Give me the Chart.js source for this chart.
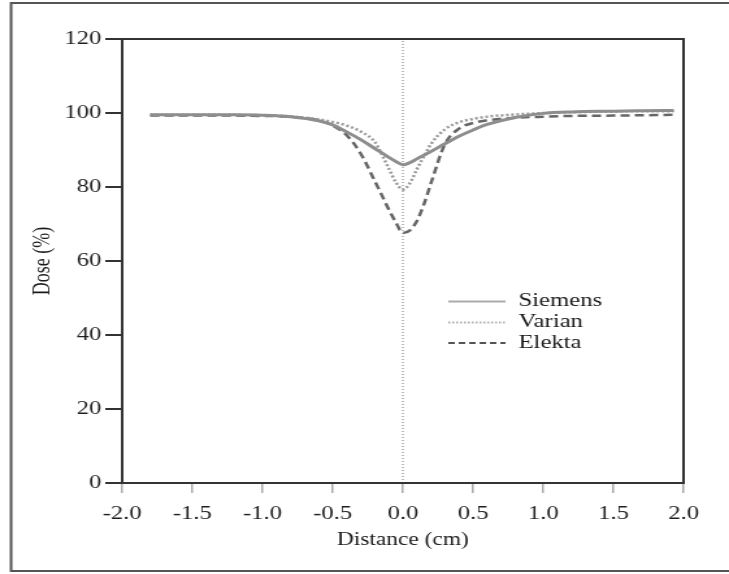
<!DOCTYPE html>
<html>
<head>
<meta charset="utf-8">
<script src="https://cdn.jsdelivr.net/npm/chart.js@4.4.1/dist/chart.umd.min.js"></script>
<style>
html, body { margin: 0; padding: 0; background: #fff; overflow: hidden; }
/* the source picture is stretched sideways, so the chart is drawn narrow and widened */
#wrap { width: 561px; height: 574px; transform: scaleX(1.2995); transform-origin: 0 0; }
</style>
</head>
<body>
<div id="wrap"><canvas id="doseChart" width="561" height="574"></canvas></div>
<script>
const distance = [-1.8, -1.5, -1.2, -1.0, -0.8, -0.6, -0.5, -0.4, -0.3, -0.2, -0.15, -0.1, -0.05, 0.0,
                  0.05, 0.1, 0.15, 0.2, 0.3, 0.4, 0.5, 0.6, 0.8, 1.0, 1.2, 1.5, 1.7, 1.93];
const siemens = [99.5, 99.5, 99.5, 99.4, 99.0, 97.9, 96.8, 94.9, 92.8, 90.4, 89.2, 88.0, 86.9, 86.0,
                 86.6, 87.6, 88.6, 89.6, 91.7, 93.7, 95.4, 96.9, 98.8, 99.9, 100.3, 100.5, 100.6, 100.7];
const varian = [99.5, 99.5, 99.5, 99.4, 99.1, 98.3, 97.6, 96.6, 95.0, 92.2, 88.8, 85.0, 81.3, 79.3,
                81.0, 84.8, 88.3, 91.6, 95.6, 97.5, 98.4, 99.0, 99.6, 100.0, 100.2, 100.4, 100.5, 100.5];
const elekta = [99.3, 99.3, 99.3, 99.2, 99.0, 98.0, 96.6, 94.0, 89.0, 81.6, 77.8, 73.9, 70.4, 67.6,
                68.3, 70.8, 75.3, 81.0, 91.6, 95.8, 97.3, 98.0, 98.7, 99.0, 99.2, 99.3, 99.4, 99.5];
const seriesNames = ['Siemens', 'Varian', 'Elekta'];
const distanceTicks = [-2.0, -1.5, -1.0, -0.5, 0.0, 0.5, 1.0, 1.5, 2.0];
const doseTicks = [0, 20, 40, 60, 80, 100, 120];

const serif = 'Liberation Serif, Times New Roman, serif';
const toPoints = ys => distance.map((x, i) => ({ x: x, y: ys[i] }));

const framePlugin = {
    id: 'frame',
    beforeDraw(chart) {
        const ctx = chart.ctx;
        ctx.save();
        ctx.strokeStyle = '#555';
        ctx.lineWidth = 2;
        ctx.strokeRect(8.5, 3, chart.width + 10, 568);
        ctx.restore();
    },
    afterDraw(chart) {
        const ctx = chart.ctx;
        const a = chart.chartArea;
        ctx.save();
        ctx.strokeStyle = '#333';
        ctx.lineWidth = 2;
        ctx.strokeRect(a.left, a.top, a.right - a.left, a.bottom - a.top);

        // legend inside the plot
        const samples = [
            { color: '#ababab', width: 2, dash: [] },
            { color: '#b0b0b0', width: 2, dash: [1.5, 1.5] },
            { color: '#555', width: 2, dash: [5, 3] }
        ];
        const rowsY = [301.5, 322.5, 343];
        ctx.font = '19px ' + serif;
        ctx.fillStyle = '#1a1a1a';
        ctx.textBaseline = 'middle';
        seriesNames.forEach((name, i) => {
            const s = samples[i];
            ctx.strokeStyle = s.color;
            ctx.lineWidth = s.width;
            ctx.setLineDash(s.dash);
            ctx.beginPath();
            ctx.moveTo(a.left + 251, rowsY[i]);
            ctx.lineTo(a.left + 295, rowsY[i]);
            ctx.stroke();
            ctx.fillText(name, a.left + 305, rowsY[i]);
        });
        ctx.restore();
    }
};

const ctx = document.getElementById('doseChart').getContext('2d');
const doseChart = new Chart(ctx, {
    type: 'line',
    data: {
        datasets: [
            {
                label: seriesNames[0],
                data: toPoints(siemens),
                borderColor: '#8e8e8e',
                borderWidth: 3,
                pointRadius: 0,
                cubicInterpolationMode: 'monotone'
            },
            {
                label: seriesNames[1],
                data: toPoints(varian),
                borderColor: '#9a9a9a',
                borderWidth: 2.5,
                borderDash: [2, 2],
                pointRadius: 0,
                cubicInterpolationMode: 'monotone'
            },
            {
                label: seriesNames[2],
                data: toPoints(elekta),
                borderColor: '#666',
                borderWidth: 2.5,
                borderDash: [7, 4],
                pointRadius: 0,
                cubicInterpolationMode: 'monotone'
            },
            {
                label: 'zero',
                data: [{ x: 0, y: 0 }, { x: 0, y: 120 }],
                borderColor: '#777',
                borderWidth: 1,
                borderDash: [1, 2],
                pointRadius: 0
            }
        ]
    },
    options: {
        responsive: false,
        animation: false,
        devicePixelRatio: 1,
        layout: { padding: { left: 0, right: 35, top: 39, bottom: 0 } },
        plugins: {
            legend: { display: false },
            tooltip: { enabled: false }
        },
        scales: {
            x: {
                type: 'linear',
                min: -2,
                max: 2,
                afterBuildTicks: s => { s.ticks = distanceTicks.map(v => ({ value: v })); },
                afterFit: s => { s.height = 91; },
                ticks: {
                    callback: v => v.toFixed(1),
                    font: { family: serif, size: 19 },
                    color: '#1f1f1f',
                    padding: 10,
                    maxRotation: 0,
                    autoSkip: false
                },
                grid: { drawOnChartArea: false, tickLength: 10, color: '#aaa', lineWidth: 1.5 },
                border: { display: false },
                title: {
                    display: true,
                    text: 'Distance (cm)',
                    font: { family: serif, size: 18 },
                    color: '#1a1a1a',
                    padding: { top: 0, bottom: 23 }
                }
            },
            y: {
                min: 0,
                max: 120,
                afterBuildTicks: s => { s.ticks = doseTicks.map(v => ({ value: v })); },
                afterFit: s => { s.width = 94; },
                ticks: {
                    font: { family: serif, size: 19 },
                    color: '#1f1f1f',
                    padding: 3
                },
                grid: { drawOnChartArea: false, tickLength: 13, color: '#333', lineWidth: 2 },
                border: { display: false },
                title: {
                    display: true,
                    text: 'Dose (%)',
                    font: { family: serif, size: 18 },
                    color: '#1a1a1a',
                    padding: { top: 22, bottom: 0 }
                }
            }
        }
    },
    plugins: [framePlugin]
});
</script>
</body>
</html>
